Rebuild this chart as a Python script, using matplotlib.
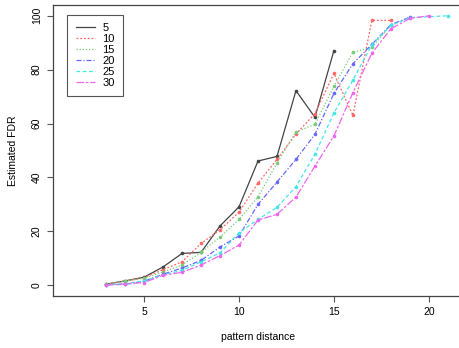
import matplotlib
matplotlib.use("Agg")
import matplotlib.pyplot as plt

plt.rcParams['font.family'] = ['Liberation Sans', 'DejaVu Sans']

labels = ["5", "10", "15", "20", "25", "30"]
x5 = list(range(3, 16))
y5 = [0.4, 1.6, 3.0, 6.8, 11.8, 12.2, 22.0, 29.1, 46.1, 47.8, 72.2, 62.3, 87.1]
x10 = list(range(3, 19))
y10 = [0.4, 1.5, 2.8, 5.8, 8.7, 15.5, 20.6, 27.1, 37.9, 46.7, 56.1, 63.7, 78.6, 63.0, 98.3, 98.3]
x15 = list(range(3, 19))
y15 = [0.4, 1.6, 2.6, 4.9, 7.5, 12.2, 17.9, 24.4, 32.8, 45.4, 56.9, 59.7, 73.8, 86.5, 88.3, 96.5]
x20 = list(range(3, 20))
y20 = [0.2, 0.3, 1.5, 4.1, 6.4, 9.2, 14.2, 18.3, 30.0, 38.3, 46.7, 56.0, 71.2, 82.2, 89.4, 96.7, 99.5]
x25 = list(range(3, 20)) + [21]
y25 = [0.1, 0.6, 1.6, 3.9, 5.5, 8.7, 12.0, 19.5, 24.4, 28.9, 36.6, 48.6, 64.0, 76.1, 89.3, 96.4, 99.3, 100.0]
x30 = list(range(3, 21))
y30 = [0.0, 0.5, 1.0, 3.7, 4.8, 7.5, 11.0, 14.9, 24.2, 26.3, 32.7, 44.2, 55.4, 71.5, 86.1, 95.2, 99.0, 100.0]

xs = [x5, x10, x15, x20, x25, x30]
ys = [y5, y10, y15, y20, y25, y30]
colors = ["#444444", "#ff6666", "#77cc77", "#6666ff", "#44e6e6", "#ee66ee"]
styles = ["-", (0, (1.5, 1.5)), (0, (1, 1.5)), (0, (4, 1.5, 1, 1.5)), (0, (3, 2)), (0, (6, 1.5, 2, 1.5))]

fig = plt.figure(figsize=(4.6, 3.48), dpi=100)
ax = fig.add_axes([53/460, 52/348, (463-53)/460, (296-5)/348])

for xx, yy, c, ls, lab in zip(xs, ys, colors, styles, labels):
    ax.plot(xx, yy, color=c, linestyle=ls, linewidth=0.9, marker='o', markersize=2.6,
            markeredgewidth=0, label=lab)

ax.set_xlim(0.2, 21.8)
ax.set_ylim(-4, 104)
ax.set_xticks([5, 10, 15, 20])
ax.set_yticks([0, 20, 40, 60, 80, 100])
ax.set_yticklabels(["0", "20", "40", "60", "80", "100"], rotation=90, va='center')
ax.tick_params(labelsize=7.5, length=4, color='#555555', width=0.8, pad=4)
ax.set_xlabel("pattern distance", fontsize=7.5, labelpad=11)
ax.set_ylabel("Estimated FDR", fontsize=7.5, labelpad=10)
for sp in ax.spines.values():
    sp.set_color('#444444')
    sp.set_linewidth(0.9)

leg = ax.legend(loc='upper left', bbox_to_anchor=(0.035, 0.966), fontsize=8,
                handlelength=1.7, handletextpad=0.7, labelspacing=0.08,
                borderpad=0.75, borderaxespad=0, fancybox=False, framealpha=1,
                edgecolor='#555555')
leg.get_frame().set_linewidth(0.8)
for h in leg.legend_handles:
    h.set_marker('')

fig.savefig("out.png", dpi=100)
